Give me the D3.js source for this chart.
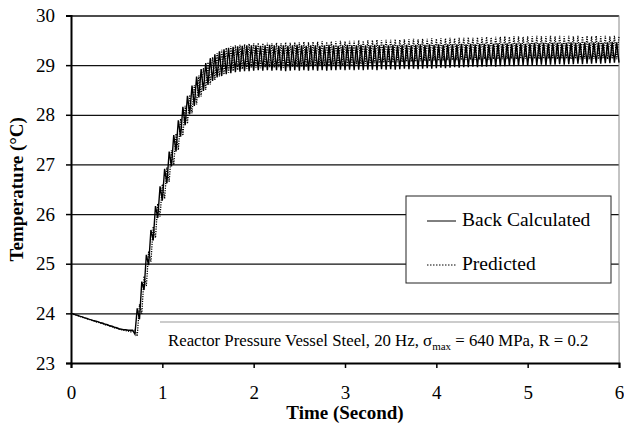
<!DOCTYPE html>
<html>
<head>
<meta charset="utf-8">
<script src="https://cdn.jsdelivr.net/npm/d3@7"></script>
<style>
  body { margin: 0; background: #fff; }
  svg text { font-family: "Liberation Serif", "Times New Roman", serif; fill: #000; }
</style>
</head>
<body>
<div id="my_dataviz"></div>
<script>
'use strict';

const xTicks = [0, 1, 2, 3, 4, 5, 6];
const yTicks = [23, 24, 25, 26, 27, 28, 29, 30];
const seriesNames = ['Back Calculated', 'Predicted'];
const sampleStep = 0.025; // seconds between two samples

// Temperature (°C), one value every sampleStep seconds, from 0 to 6 s
const backCalculated = [
  24.00, 23.99, 23.97, 23.96, 23.94, 23.93, 23.91, 23.90, 23.88, 23.87,
  23.85, 23.84, 23.83, 23.81, 23.80, 23.78, 23.77, 23.75, 23.74, 23.72,
  23.71, 23.69, 23.68, 23.67, 23.67, 23.66, 23.66, 23.66,
  23.58, 24.10, 23.88, 24.64, 24.47, 25.18, 24.97, 25.68, 25.47, 26.16, 25.92, 26.56,
  26.27, 26.91, 26.62, 27.26, 26.96, 27.59, 27.26, 27.89, 27.56, 28.16,
  27.79, 28.38, 28.01, 28.59, 28.18, 28.77, 28.35, 28.92, 28.48, 29.04,
  28.60, 29.14, 28.68, 29.22, 28.75, 29.28, 28.78, 29.32, 28.82, 29.35,
  28.84, 29.37, 28.86, 29.38, 28.87, 29.39, 28.88, 29.40, 28.88, 29.40,
  28.89, 29.40, 28.90, 29.39, 28.89, 29.40, 28.90, 29.41, 28.89, 29.40,
  28.90, 29.39, 28.89, 29.40, 28.88, 29.39, 28.89, 29.40, 28.90, 29.41,
  28.89, 29.40, 28.90, 29.39, 28.89, 29.40, 28.90, 29.40, 28.89, 29.39,
  28.90, 29.40, 28.89, 29.41, 28.90, 29.40, 28.90, 29.39, 28.91, 29.40,
  28.90, 29.41, 28.91, 29.40, 28.90, 29.40, 28.91, 29.41, 28.90, 29.40,
  28.91, 29.40, 28.91, 29.41, 28.90, 29.40, 28.92, 29.41, 28.91, 29.40,
  28.92, 29.41, 28.91, 29.40, 28.92, 29.41, 28.93, 29.41, 28.92, 29.40,
  28.93, 29.41, 28.92, 29.42, 28.93, 29.41, 28.94, 29.42, 28.93, 29.41,
  28.94, 29.42, 28.95, 29.41, 28.94, 29.42, 28.95, 29.42, 28.96, 29.42,
  28.95, 29.43, 28.96, 29.42, 28.96, 29.43, 28.97, 29.42, 28.96, 29.43,
  28.97, 29.43, 28.97, 29.42, 28.98, 29.43, 28.97, 29.44, 28.98, 29.43,
  28.98, 29.44, 28.99, 29.43, 28.98, 29.44, 28.99, 29.44, 29.00, 29.43,
  28.99, 29.44, 29.00, 29.45, 29.00, 29.44, 29.01, 29.45, 29.00, 29.44,
  29.01, 29.45, 29.01, 29.45, 29.02, 29.44, 29.01, 29.45, 29.02, 29.46,
  29.02, 29.45, 29.03, 29.45, 29.02, 29.46, 29.03, 29.45, 29.03, 29.46,
  29.04, 29.46, 29.03, 29.45, 29.04, 29.46, 29.04, 29.47, 29.05, 29.46,
  29.05
];

const predicted = [
  24.00, 23.98, 23.97, 23.95, 23.94, 23.92, 23.91, 23.89, 23.88, 23.86,
  23.85, 23.83, 23.82, 23.80, 23.79, 23.77, 23.76, 23.74, 23.73, 23.71,
  23.70, 23.68, 23.67, 23.66, 23.65, 23.64, 23.63, 23.63,
  23.66, 23.54, 24.18, 23.99, 24.75, 24.55, 25.25, 25.04, 25.75, 25.52, 26.21, 25.95,
  26.60, 26.31, 26.94, 26.65, 27.29, 26.99, 27.62, 27.29, 27.92, 27.58,
  28.18, 27.82, 28.40, 28.03, 28.60, 28.21, 28.79, 28.37, 28.94, 28.50,
  29.06, 28.61, 29.16, 28.70, 29.24, 28.77, 29.31, 28.81, 29.35, 28.85,
  29.38, 28.88, 29.40, 28.90, 29.41, 28.92, 29.42, 28.93, 29.43, 28.94,
  29.44, 28.95, 29.45, 28.94, 29.44, 28.95, 29.45, 28.96, 29.44, 28.95,
  29.45, 28.96, 29.44, 28.95, 29.46, 28.96, 29.45, 28.97, 29.46, 28.96,
  29.46, 28.97, 29.47, 28.97, 29.46, 28.98, 29.47, 28.98, 29.47, 28.99,
  29.48, 28.98, 29.47, 28.99, 29.48, 28.99, 29.48, 29.00, 29.49, 29.00,
  29.48, 29.01, 29.49, 29.01, 29.49, 29.02, 29.50, 29.02, 29.49, 29.03,
  29.50, 29.03, 29.50, 29.04, 29.51, 29.04, 29.50, 29.05, 29.51, 29.05,
  29.51, 29.05, 29.52, 29.06, 29.51, 29.06, 29.52, 29.07, 29.52, 29.07,
  29.53, 29.07, 29.52, 29.08, 29.53, 29.08, 29.53, 29.08, 29.54, 29.09,
  29.53, 29.09, 29.54, 29.09, 29.54, 29.10, 29.55, 29.10, 29.54, 29.10,
  29.55, 29.10, 29.55, 29.11, 29.56, 29.11, 29.55, 29.11, 29.56, 29.11,
  29.56, 29.12, 29.57, 29.11, 29.56, 29.12, 29.57, 29.12, 29.57, 29.12,
  29.58, 29.12, 29.57, 29.13, 29.58, 29.12, 29.58, 29.13, 29.57, 29.13,
  29.58, 29.13, 29.58, 29.13, 29.59, 29.12, 29.58, 29.13, 29.58, 29.13,
  29.59, 29.13, 29.58, 29.12, 29.59, 29.13, 29.58, 29.13, 29.59, 29.12,
  29.58, 29.13, 29.59, 29.12, 29.58, 29.13, 29.59, 29.12, 29.58, 29.13,
  29.59, 29.12, 29.58, 29.13, 29.59, 29.12, 29.58, 29.13, 29.59, 29.12,
  29.58
];

// set the dimensions and margins of the graph
let margin = {top: 15.5, right: 5, bottom: 76, left: 71},
  width = 624 - margin.left - margin.right,
  height = 439 - margin.top - margin.bottom;

let svgRoot = d3.select("#my_dataviz")
  .append("svg")
    .attr("width", 624)
    .attr("height", 439)
    .style("background", "#fff");

let svg = svgRoot.append("g")
  .attr("transform", "translate(" + margin.left + "," + margin.top + ")");

let x = d3.scaleLinear().domain([0, 6]).range([0, width]);
let y = d3.scaleLinear().domain([23, 30]).range([height, 0]);

// horizontal grid lines
svg.append("g")
  .attr("class", "grid")
  .call(d3.axisLeft(y).tickValues(yTicks.slice(1)).tickSize(-width).tickFormat(""))
  .call(g => g.select(".domain").remove())
  .selectAll("line")
    .attr("stroke", "#111")
    .attr("stroke-width", 1.3);

// right border of the plot area
svg.append("line")
  .attr("x1", width).attr("x2", width)
  .attr("y1", 0).attr("y2", height)
  .attr("stroke", "#888");

// the two series
let line = d3.line()
  .x((d, i) => x(i * sampleStep))
  .y(d => y(d));

svg.append("path")
  .datum(predicted)
  .attr("fill", "none")
  .attr("stroke", "#000")
  .attr("stroke-width", 1.3)
  .attr("stroke-dasharray", "1.2,1.2")
  .attr("d", line);

svg.append("path")
  .datum(backCalculated)
  .attr("fill", "none")
  .attr("stroke", "#000")
  .attr("stroke-width", 1.4)
  .attr("d", line);

// legend
let legend = svg.append("g").attr("transform", "translate(335,180.5)");
legend.append("rect")
  .attr("width", 205).attr("height", 87)
  .attr("fill", "#fff")
  .attr("stroke", "#222");

legend.selectAll("line.key")
  .data(seriesNames)
  .enter()
  .append("line")
    .attr("class", "key")
    .attr("x1", 21).attr("x2", 50)
    .attr("y1", (d, i) => 25 + i * 44)
    .attr("y2", (d, i) => 25 + i * 44)
    .attr("stroke", "#000")
    .attr("stroke-dasharray", (d, i) => i == 1 ? "1.5,1.5" : null);

legend.selectAll("text")
  .data(seriesNames)
  .enter()
  .append("text")
    .attr("x", 56)
    .attr("y", (d, i) => 29.5 + i * 44)
    .style("font-size", "19.5px")
    .text(d => d);

// note box
svg.append("rect")
  .attr("x", 89).attr("y", 306.5)
  .attr("width", width - 89).attr("height", height - 306.5)
  .attr("fill", "#fff");
svg.append("path")
  .attr("d", "M89,306.5H" + width + "V" + height)
  .attr("fill", "none")
  .attr("stroke", "#999");

let note = svg.append("text")
  .attr("x", 97)
  .attr("y", 330)
  .style("font-size", "16.8px");
note.append("tspan").text("Reactor Pressure Vessel Steel, 20 Hz, \u03c3");
note.append("tspan").attr("dy", 4).style("font-size", "11px").text("max");
note.append("tspan").attr("dy", -4).text(" = 640 MPa, R = 0.2");

// axes
let yAxis = svg.append("g")
  .call(d3.axisLeft(y).tickValues(yTicks).tickSize(5).tickPadding(11).tickFormat(d3.format("d")));
let xAxis = svg.append("g")
  .attr("transform", "translate(0," + height + ")")
  .call(d3.axisBottom(x).tickValues(xTicks).tickSize(5).tickPadding(18).tickFormat(d3.format("d")));

[yAxis, xAxis].forEach(function(g) {
  g.select(".domain").attr("stroke", "#000").attr("stroke-width", 2);
  g.selectAll(".tick line").attr("stroke", "#000").attr("stroke-width", 1.5);
  g.selectAll(".tick text")
    .style("font-family", '"Liberation Serif", "Times New Roman", serif')
    .style("font-size", "19px")
    .attr("fill", "#000");
});

// axis titles
svgRoot.append("text")
  .attr("transform", "translate(23," + (margin.top + height / 2) + ") rotate(-90)")
  .attr("text-anchor", "middle")
  .style("font-size", "19px")
  .style("font-weight", "bold")
  .text("Temperature (\u00b0C)");

svgRoot.append("text")
  .attr("x", margin.left + width / 2)
  .attr("y", 419)
  .attr("text-anchor", "middle")
  .style("font-size", "19px")
  .style("font-weight", "bold")
  .text("Time (Second)");
</script>
</body>
</html>
